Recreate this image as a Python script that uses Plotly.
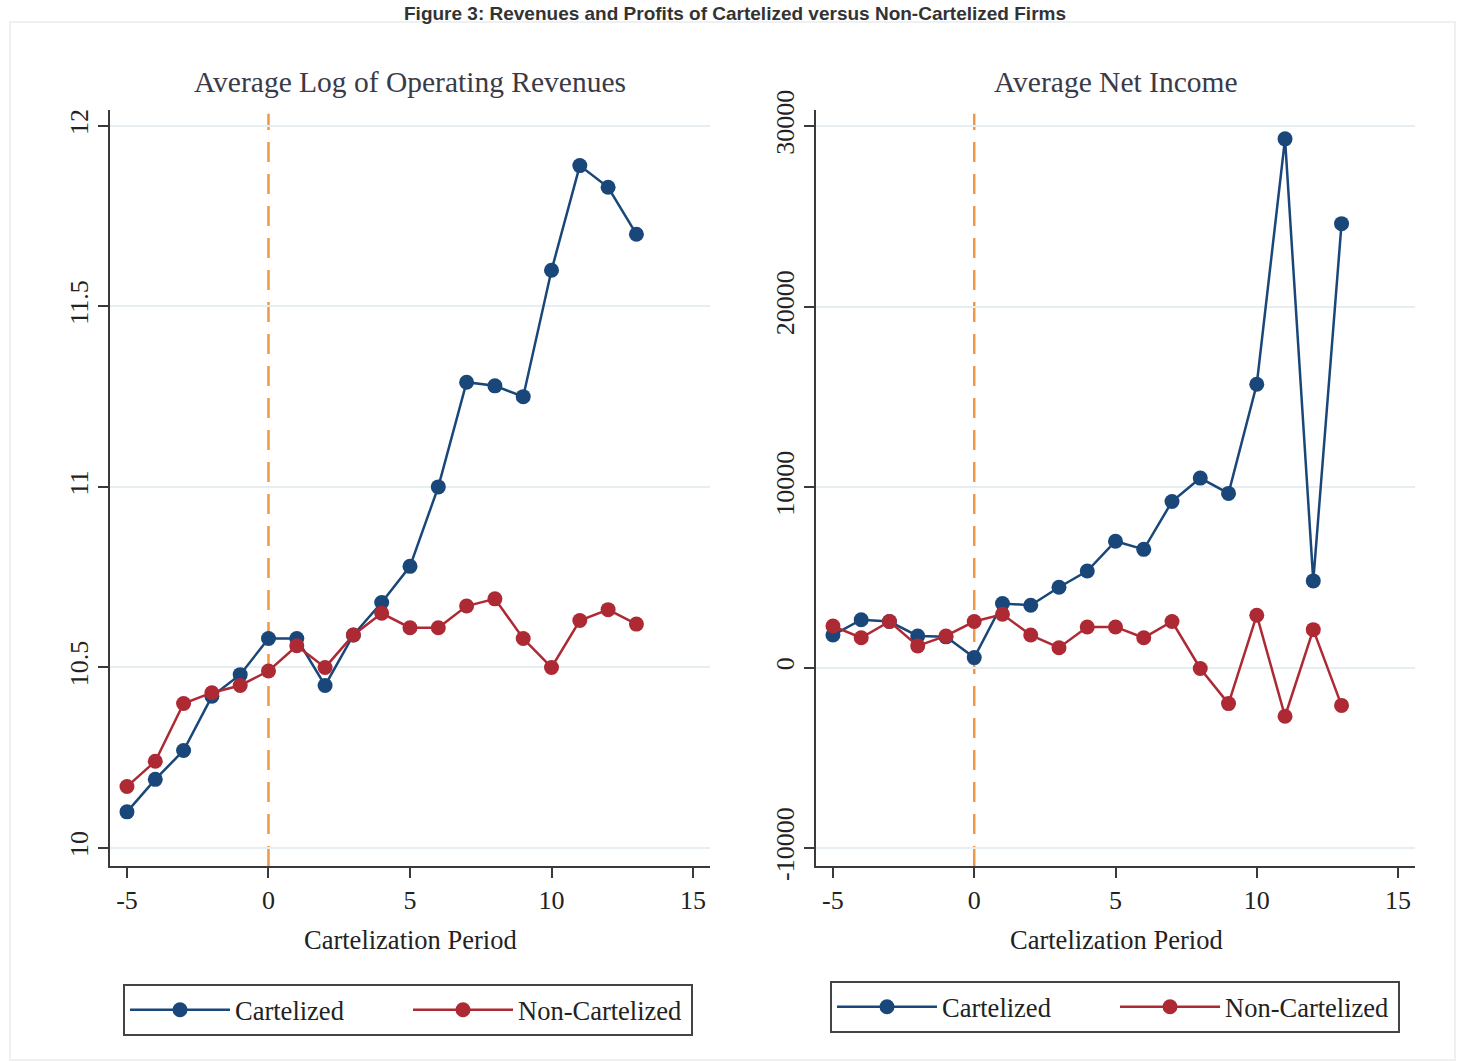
import plotly.graph_objects as go

# ---------------- data ----------------
periods = list(range(-5, 14))

rev_cartel = [10.10, 10.19, 10.27, 10.42, 10.48, 10.58, 10.58, 10.45, 10.59, 10.68,
              10.78, 11.00, 11.29, 11.28, 11.25, 11.60, 11.89, 11.83, 11.70]
rev_noncartel = [10.17, 10.24, 10.40, 10.43, 10.45, 10.49, 10.56, 10.50, 10.59, 10.65,
                 10.61, 10.61, 10.67, 10.69, 10.58, 10.50, 10.63, 10.66, 10.62]

ni_cartel = [1800, 2650, 2550, 1750, 1700, 550, 3550, 3450, 4450, 5350,
             7000, 6550, 9200, 10500, 9650, 15700, 29300, 4800, 24600]
ni_noncartel = [2300, 1650, 2550, 1200, 1750, 2550, 2950, 1800, 1100, 2250,
                2250, 1650, 2550, -50, -2000, 2900, -2700, 2100, -2100]

series_names = ["Cartelized", "Non-Cartelized"]
x_ticks = [-5, 0, 5, 10, 15]
rev_ticks = [10, 10.5, 11, 11.5, 12]
rev_ticklabels = ["10", "10.5", "11", "11.5", "12"]
ni_ticks = [-10000, 0, 10000, 20000, 30000]
ni_ticklabels = ["-10000", "0", "10000", "20000", "30000"]
panel_titles = ["Average Log of Operating Revenues", "Average Net Income"]
x_title = "Cartelization Period"
fig_title = "Figure 3: Revenues and Profits of Cartelized versus Non-Cartelized Firms"

# ---------------- style ----------------
W, H = 1458, 1062
BLUE = "#1a477a"
RED = "#ad2a34"
ORANGE = "#ee9848"
AXIS = "#3a3a3a"
GRID = "#e6eef2"
SERIF = "Liberation Serif, Times New Roman, serif"

def px_x(p):
    return p / W

def px_y(p):
    return 1 - p / H

fig = go.Figure()

colors = [BLUE, RED]
left_data = [rev_cartel, rev_noncartel]
right_data = [ni_cartel, ni_noncartel]

for name, col, ys in zip(series_names, colors, left_data):
    fig.add_trace(go.Scatter(
        x=periods, y=ys, mode="lines+markers", name=name,
        line=dict(color=col, width=2.5),
        marker=dict(color=col, size=15),
        xaxis="x", yaxis="y", legend="legend", showlegend=True))

for name, col, ys in zip(series_names, colors, right_data):
    fig.add_trace(go.Scatter(
        x=periods, y=ys, mode="lines+markers", name=name,
        line=dict(color=col, width=2.5),
        marker=dict(color=col, size=15),
        xaxis="x2", yaxis="y2", legend="legend2", showlegend=True))

# vertical dashed line at period 0
fig.add_shape(type="line", xref="x", yref="y domain", x0=0, x1=0, y0=0, y1=0.995,
              line=dict(color=ORANGE, width=2.5, dash="20px,12px"), layer="below")
fig.add_shape(type="line", xref="x2", yref="y2 domain", x0=0, x1=0, y0=0, y1=0.995,
              line=dict(color=ORANGE, width=2.5, dash="20px,12px"), layer="below")

dom_y = [px_y(866), px_y(110)]
dom_x1 = [px_x(110), px_x(710)]
dom_x2 = [px_x(816), px_x(1415)]

TICKFONT = dict(family=SERIF, size=26, color="#222")

xaxis_common = dict(
    range=[-5.6, 15.6], tickvals=x_ticks, ticktext=[str(t) for t in x_ticks],
    showline=True, linecolor=AXIS, linewidth=2, ticks="outside", ticklen=10,
    tickwidth=2, tickcolor=AXIS, showgrid=False, zeroline=False,
    tickfont=TICKFONT, automargin=False,
)

yaxis_common = dict(
    showline=True, linecolor=AXIS, linewidth=2, ticks="outside", ticklen=10,
    tickwidth=2, tickcolor=AXIS, showgrid=True, gridcolor=GRID, gridwidth=2,
    zeroline=False, tickangle=-90, tickfont=TICKFONT, automargin=False,
)

legend_common = dict(
    orientation="h", xanchor="center", yanchor="middle",
    bordercolor="#444", borderwidth=2, bgcolor="white",
    font=dict(family=SERIF, size=26.5, color="#222"),
    entrywidth=168, entrywidthmode="pixels", itemwidth=100,
)

fig.update_layout(
    width=W, height=H,
    margin=dict(l=0, r=0, t=0, b=0, autoexpand=False),
    paper_bgcolor="white", plot_bgcolor="white",
    xaxis=dict(xaxis_common, domain=dom_x1, anchor="y"),
    yaxis=dict(yaxis_common, domain=dom_y, anchor="x", range=[9.95, 12.044],
               tickvals=rev_ticks, ticktext=rev_ticklabels),
    xaxis2=dict(xaxis_common, domain=dom_x2, anchor="y2"),
    yaxis2=dict(yaxis_common, domain=dom_y, anchor="x2", range=[-11000, 30900],
                tickvals=ni_ticks, ticktext=ni_ticklabels),
    legend=dict(legend_common, x=px_x(408), y=px_y(1010)),
    legend2=dict(legend_common, x=px_x(1115), y=px_y(1007)),
    showlegend=True,
)

annotations = [
    dict(text=panel_titles[0], xref="paper", yref="paper", x=px_x(410), y=px_y(82),
         xanchor="center", yanchor="middle", showarrow=False,
         font=dict(family=SERIF, size=29.5, color="#3a3a48")),
    dict(text=panel_titles[1], xref="paper", yref="paper", x=px_x(1116), y=px_y(82),
         xanchor="center", yanchor="middle", showarrow=False,
         font=dict(family=SERIF, size=29.5, color="#3a3a48")),
    dict(text=x_title, xref="paper", yref="paper", x=px_x(410), y=px_y(940),
         xanchor="center", yanchor="middle", showarrow=False,
         font=dict(family=SERIF, size=26.5, color="#222")),
    dict(text=x_title, xref="paper", yref="paper", x=px_x(1116), y=px_y(940),
         xanchor="center", yanchor="middle", showarrow=False,
         font=dict(family=SERIF, size=26.5, color="#222")),
    dict(text="<b>" + fig_title + "</b>", xref="paper", yref="paper", x=px_x(735),
         y=px_y(1), xanchor="center", yanchor="top", showarrow=False,
         font=dict(family="Liberation Sans, Arial, sans-serif", size=19, color="#333")),
]
fig.update_layout(annotations=annotations)

# faint outer frame of the graph region
fig.add_shape(type="rect", xref="paper", yref="paper", x0=px_x(10), x1=px_x(1455),
              y0=px_y(1060), y1=px_y(22), line=dict(color="#eef0f2", width=2),
              fillcolor="rgba(0,0,0,0)", layer="below")

fig.write_html("out.html",
               config={"displayModeBar": False},
               post_script="document.body.style.margin='0';document.body.style.overflow='hidden';")
